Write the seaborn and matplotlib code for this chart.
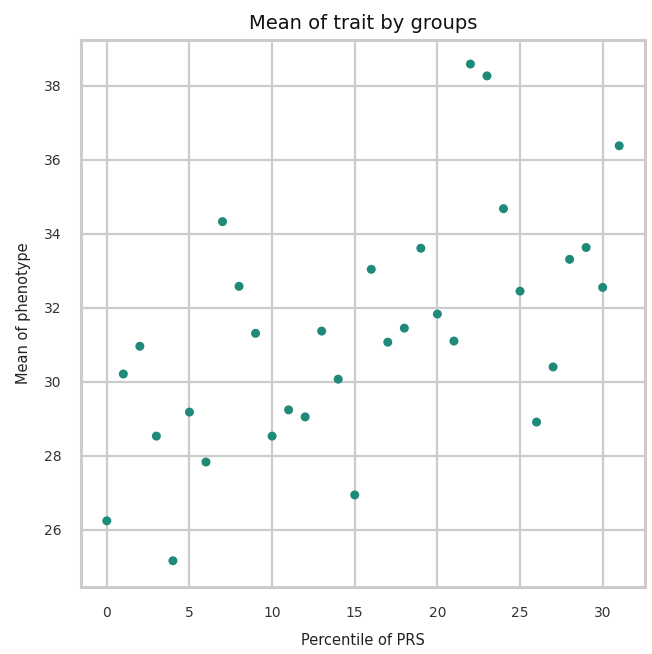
import matplotlib
matplotlib.use("Agg")
import matplotlib.pyplot as plt
import seaborn as sns
import pandas as pd

percentile = list(range(32))
mean_pheno = [26.24, 30.21, 30.96, 28.53, 25.16, 29.18, 27.83, 34.33, 32.58, 31.31,
              28.53, 29.24, 29.05, 31.37, 30.07, 26.94, 33.04, 31.07, 31.45, 33.61,
              31.83, 31.10, 38.59, 38.27, 34.68, 32.45, 28.91, 30.40, 33.31, 33.63,
              32.55, 36.38]

df = pd.DataFrame({"Percentile of PRS": percentile, "Mean of phenotype": mean_pheno})

sns.set_theme(style="whitegrid")
plt.rcParams["font.family"] = ["DejaVu Sans"]

fig = plt.figure(figsize=(6.52, 6.54), dpi=100)
ax = fig.add_axes([0.124, 0.1024, 0.865, 0.837])
sns.scatterplot(data=df, x="Percentile of PRS", y="Mean of phenotype", ax=ax,
                color="#1f8a79", s=42, edgecolor="none")
ax.grid(True, color="#cccccc", linewidth=1.6)
for sp in ax.spines.values():
    sp.set_color("#cccccc")
    sp.set_linewidth(2.2)
ax.set_xlim(-1.57, 32.55)
ax.set_ylim(24.45, 39.25)
ax.set_xticks([0, 5, 10, 15, 20, 25, 30])
ax.set_yticks([26, 28, 30, 32, 34, 36, 38])
ax.tick_params(labelsize=10, colors="#333333", pad=8)
ax.set_xlabel("Percentile of PRS", fontsize=10.5, color="#222222", labelpad=9)
ax.set_ylabel("Mean of phenotype", fontsize=10.5, color="#222222", labelpad=9)
ax.set_title("Mean of trait by groups", fontsize=14, color="#111111", pad=8)
fig.savefig("out.png", dpi=100)
